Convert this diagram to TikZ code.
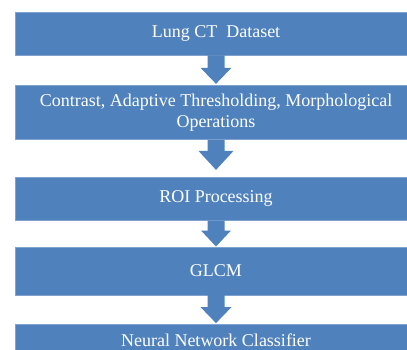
\documentclass[tikz,border=0pt]{standalone}
\usepackage{fontspec}
\setmainfont{Liberation Serif}
\usepackage{tikz}
\usetikzlibrary{positioning,calc}
\definecolor{fblue}{HTML}{4F81BD}
\definecolor{fedge}{HTML}{7FA2D0}
\tikzset{
  stage/.style={draw=fedge, fill=fblue, line width=0.6pt, text=white, align=center,
                minimum width=402pt, inner sep=0pt,
                font=\fontsize{18pt}{21pt}\selectfont},
  blockarr/.style={fill=fblue, draw=none},
}
% block arrow between two stages: from, to, head length, head half width, gap at tip
\newcommand{\flowarrow}[5]{%
  \path[blockarr] let \p1=(#1.south), \p2=(#2.north) in
    (\x1-8.5pt,\y1) -- (\x1+8.5pt,\y1) -- (\x1+8.5pt,\y2+#5+#3) -- (\x1+#4,\y2+#5+#3)
    -- (\x1,\y2+#5) -- (\x1-#4,\y2+#5+#3) -- (\x1-8.5pt,\y2+#5+#3) -- cycle;}

\begin{document}
\begin{tikzpicture}
  \useasboundingbox (0,0) rectangle (407pt,-349pt);
  % stages, top to bottom
  \node[stage, minimum height=43pt] (data) at (216pt,-33.5pt) {Lung CT\ \ Dataset};
  \node[stage, minimum height=54pt, below=30pt of data] (prep)
    {Contrast, Adaptive Thresholding, Morphological\\Operations};
  \node[stage, minimum height=43pt, below=37pt of prep] (roi) {ROI Processing};
  \node[stage, minimum height=48pt, below=26pt of roi] (glcm) {GLCM};
  \node[stage, minimum height=32pt, below=29pt of glcm] (nnc) {Neural Network Classifier};

  % arrows
  \flowarrow{data}{prep}{16pt}{15.5pt}{1.5pt}
  \flowarrow{prep}{roi}{19pt}{17.5pt}{7pt}
  \flowarrow{roi}{glcm}{16pt}{15pt}{0pt}
  \flowarrow{glcm}{nnc}{16pt}{15.5pt}{1pt}
\end{tikzpicture}
\end{document}
